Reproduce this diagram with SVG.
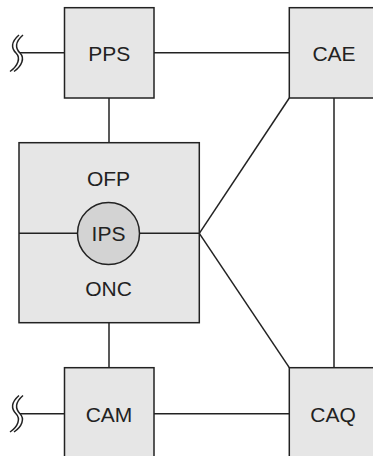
<svg xmlns="http://www.w3.org/2000/svg" width="373" height="456" viewBox="0 0 373 456">
<style>
.box{fill:#e6e6e6;stroke:#222;stroke-width:1.5}
.ln{fill:none;stroke:#222;stroke-width:1.5}
.t{font-family:"Liberation Sans",Arial,sans-serif;font-size:21px;fill:#222;text-anchor:middle}
</style>
<rect width="373" height="456" fill="#fff"/>
<g id="connectors">
<line class="ln" x1="20" y1="52.7" x2="64.5" y2="52.7"/>
<line class="ln" x1="154" y1="52.7" x2="289.3" y2="52.7"/>
<line class="ln" x1="109" y1="98" x2="109" y2="142.7"/>
<line class="ln" x1="109" y1="322.7" x2="109" y2="367.7"/>
<line class="ln" x1="289.3" y1="98" x2="199.3" y2="233.3"/>
<line class="ln" x1="199.3" y1="233.3" x2="289.3" y2="367.7"/>
<line class="ln" x1="334" y1="98" x2="334" y2="367.7"/>
<line class="ln" x1="20" y1="413.7" x2="64.5" y2="413.7"/>
<line class="ln" x1="154" y1="413.7" x2="289.3" y2="413.7"/>
<path class="ln" d="M19,35 C11,42 11,48 16,53 C21,58 18,66 10,71.5 M23,35 C15,42 15,48 20,53 C25,58 22,66 14,71.5"/>
<path class="ln" d="M19,395.5 C11,402.5 11,408.5 16,413.7 C21,418.7 18,426.5 10,432 M23,395.5 C15,402.5 15,408.5 20,413.7 C25,418.7 22,426.5 14,432"/>
</g>
<g id="PPS">
<rect class="box" x="64.5" y="7.7" width="89.5" height="90.3"/>
<text class="t" x="109.3" y="61">PPS</text>
</g>
<g id="CAE">
<rect class="box" x="289.3" y="7.7" width="90" height="90.3"/>
<text class="t" x="334" y="61">CAE</text>
</g>
<g id="ONC">
<rect class="box" x="19" y="142.7" width="180.3" height="180"/>
<line class="ln" x1="19" y1="233.3" x2="199.3" y2="233.3"/>
<text class="t" x="108.5" y="186">OFP</text>
<text class="t" x="108.5" y="296">ONC</text>
</g>
<g id="IPS">
<circle cx="108.5" cy="233.5" r="31" fill="#d3d3d3" stroke="#222" stroke-width="1.5"/>
<text class="t" x="108.5" y="241">IPS</text>
</g>
<g id="CAM">
<rect class="box" x="64.5" y="367.7" width="89.5" height="95"/>
<text class="t" x="109" y="421.5">CAM</text>
</g>
<g id="CAQ">
<rect class="box" x="289.3" y="367.7" width="90" height="95"/>
<text class="t" x="333" y="421.5">CAQ</text>
</g>
</svg>
